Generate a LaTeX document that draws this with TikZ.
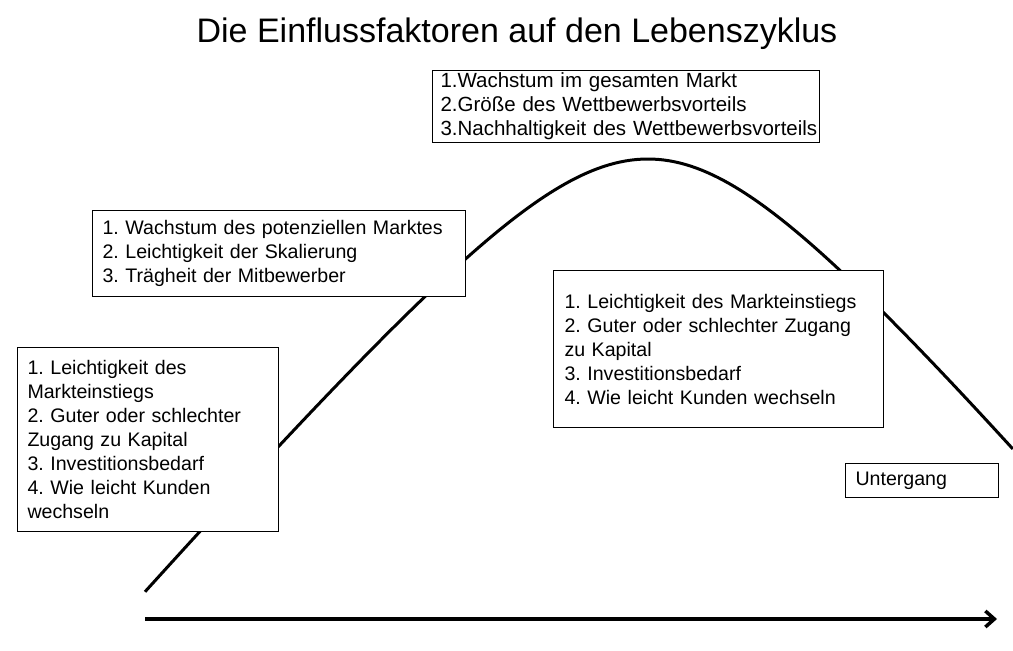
\documentclass[tikz,border=0pt]{standalone}
\usepackage{fontspec}
\setmainfont{Liberation Sans}
\usetikzlibrary{arrows.meta}
\frenchspacing
\hyphenpenalty=10000
\hbadness=10000
\hfuzz=20pt
\begin{document}
\begin{tikzpicture}[x=1pt,y=-1pt,
  infobox/.style={draw=black, fill=white, line width=1pt, anchor=north west,
    inner xsep=10pt, inner ysep=0pt, align=left,
    font=\fontsize{19.6}{24}\selectfont},
  curveline/.style={line width=3pt, line join=round},
  axisline/.style={line width=3.5pt, -{Straight Barb[length=9pt,width=16pt]}}
]
\useasboundingbox (0,0) rectangle (1013,651);

% life cycle curve
\begin{scope}[x=100pt,y=-100pt]
\draw[curveline] plot[domain=1.45:10.13, samples=160]
  (\x, {1.59 + (\x<6.48 ? 1.15 : 1.18)*(sqrt((\x-6.48)*(\x-6.48)+2.1904)-1.48)});
\end{scope}

% time axis
\coordinate (axS) at (145,619);
\coordinate (axE) at (997,619);
\draw[axisline] (axS) -- (axE);

% title
\node[font=\fontsize{34}{40}\selectfont, anchor=base] (title) at (517,42)
  {Die Einflussfaktoren auf den Lebenszyklus};

% boxes
\node[infobox, font=\fontsize{20.5}{24}\selectfont, inner xsep=8pt, text width=371pt, minimum height=72pt] (top) at (432,70)
  {1.Wachstum im gesamten Markt\\2.Größe des Wettbewerbsvorteils\\\mbox{3.Nachhaltigkeit des Wettbewerbsvorteils}};
\node[infobox, text width=353pt, minimum height=86pt] (growth) at (92,210)
  {1. Wachstum des potenziellen Marktes\\2. Leichtigkeit der Skalierung\\3. Trägheit der Mitbewerber};
\node[infobox, inner xsep=11pt, text width=308pt, minimum height=157pt] (decline) at (553,270)
  {1. Leichtigkeit des Markteinstiegs\\2. Guter oder schlechter Zugang\\zu Kapital\\3. Investitionsbedarf\\4. Wie leicht Kunden wechseln};
\node[infobox, text width=241pt, minimum height=184pt] (start) at (17,347)
  {1. Leichtigkeit des\\Markteinstiegs\\2. Guter oder schlechter\\Zugang zu Kapital\\3. Investitionsbedarf\\4. Wie leicht Kunden\\wechseln};
\node[infobox, text width=133pt, minimum height=34pt] (end) at (845,463)
  {Untergang};
\end{tikzpicture}
\end{document}
